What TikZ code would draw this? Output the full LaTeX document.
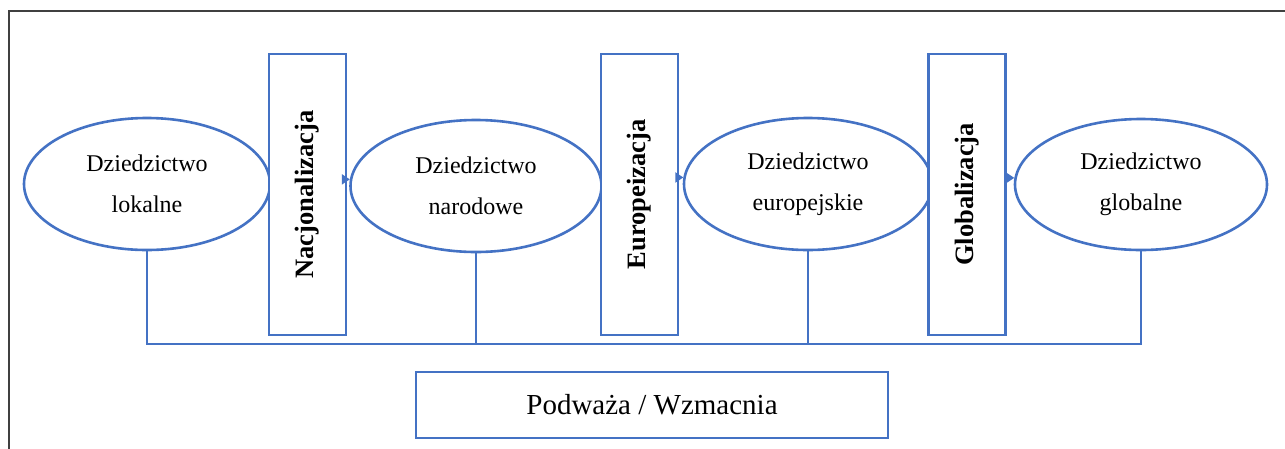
\documentclass[tikz,border=0pt]{standalone}
\usepackage{fontspec}
\setmainfont{Liberation Serif}
\usetikzlibrary{arrows.meta,shapes.geometric}
\definecolor{wblue}{HTML}{4472C4}
\definecolor{framegray}{HTML}{404040}
\tikzset{
  blueline/.style={draw=wblue, line width=2.6pt},
  heritage/.style={ellipse, blueline, fill=white, inner sep=0pt, align=center,
    font=\fontsize{24}{41}\selectfont},
  process/.style={rectangle, blueline, fill=white, inner sep=0pt,
    minimum width=77pt, minimum height=281pt},
  proclabel/.style={rotate=90, font=\fontsize{26.5}{30}\selectfont\bfseries},
  flow/.style={draw=wblue, line width=2pt, -{Triangle[length=8pt,width=10pt]}, shorten <=-1pt},
  resultbox/.style={rectangle, blueline, fill=white, inner sep=0pt,
    minimum width=472pt, minimum height=66pt, font=\fontsize{29}{34}\selectfont}
}
\begin{document}
\begin{tikzpicture}[x=1pt,y=-1pt]
\useasboundingbox (0,0) rectangle (1285,448);
\draw[framegray, line width=1.3pt] (9,460) -- (9,11) -- (1300,11);
% heritage ellipses
\node[heritage, minimum width=246pt, minimum height=132pt] (e1) at (147,184) {Dziedzictwo\\lokalne};
\node[heritage, minimum width=251pt, minimum height=132pt] (e2) at (476,186) {Dziedzictwo\\narodowe};
\node[heritage, minimum width=248pt, minimum height=132pt] (e3) at (808,184) {Dziedzictwo\\europejskie};
\node[heritage, minimum width=252pt, minimum height=131pt] (e4) at (1141,184.5) {Dziedzictwo\\globalne};
% process rectangles
\node[process] (r1) at (307.5,194.5) {};
\node[proclabel] (t1) at (r1) {Nacjonalizacja};
\node[process] (r2) at (639.5,194.5) {};
\node[proclabel] (t2) at (r2) {Europeizacja};
\node[process] (r3) at (967,194.5) {};
\node[proclabel] (t3) at (r3) {Globalizacja};
% flow arrows
\draw[flow] (r1.east |- e2.177) -- (e2.177);
\draw[flow] (r2.east |- e3.177) -- (e3.177);
\draw[flow] (r3.east |- e4.177) -- (e4.177);
% bus
\coordinate (bus) at (0,344);
\draw[blueline] (e1.south) -- (e1.south |- bus) -- (e4.south |- bus) -- (e4.south);
\draw[blueline] (e2.south) -- (e2.south |- bus);
\draw[blueline] (e3.south) -- (e3.south |- bus);
% result box
\node[resultbox] (res) at (652,405) {Podważa / Wzmacnia};
\end{tikzpicture}
\end{document}
